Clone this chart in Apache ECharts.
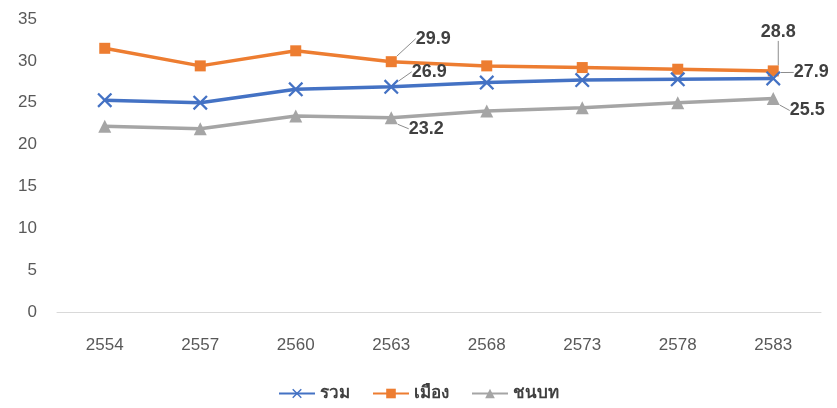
<!DOCTYPE html>
<html><head><meta charset="utf-8">
<script src="https://cdn.jsdelivr.net/npm/echarts@6/dist/echarts.min.js"></script>
<style>html,body{margin:0;padding:0;background:#fff}#c{width:837px;height:408px}</style>
</head><body><div id="c"></div>
<script>
const categories = ['2554','2557','2560','2563','2568','2573','2578','2583'];
const total = [25.3, 25.0, 26.6, 26.9, 27.4, 27.7, 27.8, 27.9];
const urban = [31.5, 29.4, 31.2, 29.9, 29.4, 29.2, 29.0, 28.8];
const rural = [22.2, 21.9, 23.4, 23.2, 24.0, 24.4, 25.0, 25.5];
const names = ['รวม', 'เมือง', 'ชนบท'];
const labelled = [3, 7];
// label offsets [dx, dy] per series for labelled points
const offs = [
  {3: [38, -15], 7: [38, -6]},
  {3: [42, -23], 7: [5, -39]},
  {3: [35, 11], 7: [34, 12]}
];
const chart = echarts.init(document.getElementById('c'));
function mk(name, data, color, symbol, size, si) {
  return {
    name, type: 'line', data: data.map((v, i) => ({
      value: v,
      label: {show: labelled.includes(i)}
    })),
    symbol, symbolSize: size,
    lineStyle: {color, width: 3.5},
    itemStyle: {color},
    label: {position: 'inside', color: '#404040', fontSize: 18, fontWeight: 'bold',
      fontFamily: 'Liberation Sans, Arial, sans-serif', formatter: p => p.value.toFixed(1)},
    labelLine: {show: true, lineStyle: {color: '#8c8c8c', width: 1}},
    labelLayout: function (p) {
      const o = offs[si][p.dataIndex];
      if (!o) return {};
      return {dx: o[0], dy: o[1]};
    },
    z: si === 0 ? 4 : 3
  };
}
chart.setOption({
  animation: false,
  grid: {left: 57, right: 16, top: 19, bottom: 96},
  legend: {bottom: 1, left: 'center', itemWidth: 36, itemHeight: 12, itemGap: 22,
    textStyle: {fontSize: 17, color: '#404040', fontWeight: 'bold', fontFamily: 'Noto Sans, sans-serif'},
    data: names},
  xAxis: {type: 'category', data: categories, boundaryGap: true,
    axisLine: {lineStyle: {color: '#d9d9d9', width: 1}}, axisTick: {show: false},
    axisLabel: {color: '#595959', fontSize: 17, margin: 25, fontFamily: 'Liberation Sans, Arial, sans-serif'}},
  yAxis: {type: 'value', min: 0, max: 35, interval: 5,
    splitLine: {show: false}, axisLine: {show: false}, axisTick: {show: false},
    axisLabel: {color: '#595959', fontSize: 17, margin: 20, fontFamily: 'Liberation Sans, Arial, sans-serif'}},
  series: [
    mk(names[0], total, '#4472C4', 'path://M0,1.5L1.5,0L7,5.5L12.5,0L14,1.5L8.5,7L14,12.5L12.5,14L7,8.5L1.5,14L0,12.5L5.5,7Z', 15, 0),
    mk(names[1], urban, '#ED7D31', 'rect', 11, 1),
    mk(names[2], rural, '#A5A5A5', 'triangle', 13, 2)
  ]
});
</script></body></html>
